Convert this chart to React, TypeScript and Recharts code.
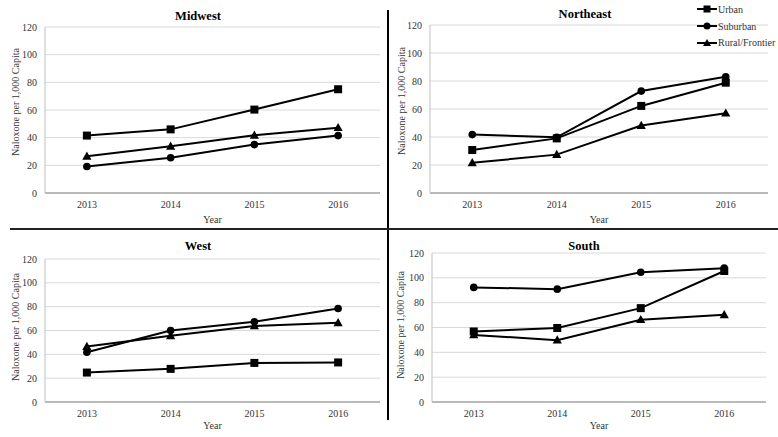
import { LineChart, Line, XAxis, YAxis, CartesianGrid, Label } from 'recharts';

const YEARS = ['2013', '2014', '2015', '2016'];
const Y_TICKS = [0, 20, 40, 60, 80, 100, 120];

const MIDWEST_URBAN = [41.5, 46, 60.3, 75];
const MIDWEST_SUBURBAN = [19.2, 25.5, 35, 41.5];
const MIDWEST_RURAL = [26.5, 33.8, 41.7, 47.2];

const NORTHEAST_URBAN = [30.7, 39, 62.2, 78.8];
const NORTHEAST_SUBURBAN = [41.7, 39.8, 72.8, 83];
const NORTHEAST_RURAL = [21.6, 27.4, 48.2, 57];

const WEST_URBAN = [24.7, 27.8, 32.8, 33.2];
const WEST_SUBURBAN = [41.8, 60, 67.3, 78.5];
const WEST_RURAL = [46.5, 55.6, 63.8, 66.5];

const SOUTH_URBAN = [56.8, 59.6, 75.6, 105.5];
const SOUTH_SUBURBAN = [92.3, 90.9, 104.5, 107.8];
const SOUTH_RURAL = [54, 49.8, 66.3, 70.2];

const SERIES = [
  { key: 'urban', name: 'Urban' },
  { key: 'suburban', name: 'Suburban' },
  { key: 'rural', name: 'Rural/Frontier' },
];

const FONT = '"Liberation Serif", "DejaVu Serif", serif';
const TEXT_COLOR = '#333';
const TICK_STYLE = { fill: TEXT_COLOR, fontSize: 10, fontFamily: FONT };

const toRows = (urban: number[], suburban: number[], rural: number[]) =>
  YEARS.map((year, i) => ({ year, urban: urban[i], suburban: suburban[i], rural: rural[i] }));

// marker shapes, drawn around the point the line hands us
const SquareDot = (props: any) => {
  const { cx, cy } = props;
  if (cx == null || cy == null) return null;
  return <rect key={props.key} x={cx - 4} y={cy - 4} width={8} height={8} fill="#000" />;
};

const CircleDot = (props: any) => {
  const { cx, cy } = props;
  if (cx == null || cy == null) return null;
  return <circle key={props.key} cx={cx} cy={cy} r={3.8} fill="#000" />;
};

const TriangleDot = (props: any) => {
  const { cx, cy } = props;
  if (cx == null || cy == null) return null;
  return (
    <path
      key={props.key}
      d={`M${cx},${cy - 4.8}L${cx + 4.6},${cy + 3.4}L${cx - 4.6},${cy + 3.4}Z`}
      fill="#000"
    />
  );
};

const DOTS: Record<string, (p: any) => any> = {
  urban: SquareDot,
  suburban: CircleDot,
  rural: TriangleDot,
};

interface PanelProps {
  title: string;
  data: any[];
  left: number;
  top: number;
  width: number;
  height: number;
  marginTop: number;
  marginRight: number;
  yAxisWidth: number;
  xAxisHeight: number;
  titleX: number;
  titleY: number;
  yLabelDx: number;
  yLabelDy: number;
  yearOffset: number;
}

const Panel = (p: PanelProps) => {
  const plotWidth = p.width - p.yAxisWidth - p.marginRight;
  const pad = plotWidth / 8;
  return (
    <>
      <div
        style={{
          position: 'absolute',
          left: p.titleX,
          top: p.titleY - 8,
          transform: 'translateX(-50%)',
          fontFamily: FONT,
          fontWeight: 'bold',
          fontSize: 12.5,
          lineHeight: '16px',
          color: '#000',
          whiteSpace: 'nowrap',
        }}
      >
        {p.title}
      </div>
      <div style={{ position: 'absolute', left: p.left, top: p.top }}>
        <LineChart
          width={p.width}
          height={p.height}
          data={p.data}
          margin={{ top: p.marginTop, right: p.marginRight, left: 0, bottom: 0 }}
          style={{ fontFamily: FONT }}
        >
          <CartesianGrid vertical={false} stroke="#d9d9d9" />
          <XAxis
            dataKey="year"
            height={p.xAxisHeight}
            padding={{ left: pad, right: pad }}
            tickLine={false}
            axisLine={{ stroke: '#868686', strokeWidth: 1 }}
            tick={TICK_STYLE}
          >
            <Label
              value="Year"
              position="insideTop"
              offset={p.yearOffset}
              fill={TEXT_COLOR}
              fontSize={10}
              fontFamily={FONT}
            />
          </XAxis>
          <YAxis
            width={p.yAxisWidth}
            domain={[0, 120]}
            ticks={Y_TICKS}
            tickLine={false}
            axisLine={{ stroke: '#bfbfbf' }}
            tick={TICK_STYLE}
          >
            <Label
              value="Naloxone per 1,000 Capita"
              position="center"
              angle={-90}
              dx={p.yLabelDx}
              dy={p.yLabelDy}
              fill={TEXT_COLOR}
              fontSize={10}
              fontFamily={FONT}
            />
          </YAxis>
          {SERIES.map((s) => (
            <Line
              key={s.key}
              dataKey={s.key}
              name={s.name}
              stroke="#000"
              strokeWidth={2}
              dot={DOTS[s.key]}
              activeDot={false}
              isAnimationActive={false}
            />
          ))}
        </LineChart>
      </div>
    </>
  );
};

const LegendIcon = ({ k }: { k: string }) => (
  <svg width={20} height={10} style={{ display: 'block' }}>
    <line x1={0} y1={5} x2={20} y2={5} stroke="#000" strokeWidth={2} />
    {k === 'urban' && <rect x={6.5} y={1.5} width={7} height={7} fill="#000" />}
    {k === 'suburban' && <circle cx={10} cy={5} r={3.5} fill="#000" />}
    {k === 'rural' && <path d="M10,1L14,8L6,8Z" fill="#000" />}
  </svg>
);

export default function App() {
  return (
    <div
      style={{
        position: 'absolute',
        left: 0,
        top: 0,
        width: 778,
        height: 437,
        background: '#fff',
        fontFamily: FONT,
        overflow: 'hidden',
      }}
    >
      <Panel
        title="Midwest"
        data={toRows(MIDWEST_URBAN, MIDWEST_SUBURBAN, MIDWEST_RURAL)}
        left={0} top={0} width={390} height={230}
        marginTop={27} marginRight={10} yAxisWidth={45} xAxisHeight={37}
        titleX={198} titleY={16}
        yLabelDx={-7.5} yLabelDy={-8} yearOffset={22.5}
      />
      <Panel
        title="Northeast"
        data={toRows(NORTHEAST_URBAN, NORTHEAST_SUBURBAN, NORTHEAST_RURAL)}
        left={388} top={0} width={390} height={230}
        marginTop={25} marginRight={10} yAxisWidth={42} xAxisHeight={37}
        titleX={585} titleY={14}
        yLabelDx={-8} yLabelDy={-8} yearOffset={22.5}
      />
      <Panel
        title="West"
        data={toRows(WEST_URBAN, WEST_SUBURBAN, WEST_RURAL)}
        left={0} top={229} width={390} height={208}
        marginTop={30} marginRight={10} yAxisWidth={45} xAxisHeight={35}
        titleX={198} titleY={246}
        yLabelDx={-7.5} yLabelDy={-3.5} yearOffset={19.5}
      />
      <Panel
        title="South"
        data={toRows(SOUTH_URBAN, SOUTH_SUBURBAN, SOUTH_RURAL)}
        left={388} top={229} width={390} height={208}
        marginTop={24} marginRight={12} yAxisWidth={44} xAxisHeight={35}
        titleX={584} titleY={246}
        yLabelDx={-9.3} yLabelDy={-2.5} yearOffset={19.5}
      />

      {/* legend sits in the corner of the Northeast panel */}
      <div style={{ position: 'absolute', left: 697, top: 1, fontFamily: FONT }}>
        {SERIES.map((s) => (
          <div key={s.key} style={{ display: 'flex', alignItems: 'center', height: 16.7 }}>
            <LegendIcon k={s.key} />
            <span style={{ fontSize: 10, color: TEXT_COLOR, marginLeft: 1, whiteSpace: 'nowrap' }}>{s.name}</span>
          </div>
        ))}
      </div>

      {/* quadrant dividers */}
      <div style={{ position: 'absolute', left: 386.5, top: 10, width: 2, height: 410, background: '#000' }} />
      <div style={{ position: 'absolute', left: 10, top: 227.5, width: 768, height: 2, background: '#222' }} />
    </div>
  );
}
